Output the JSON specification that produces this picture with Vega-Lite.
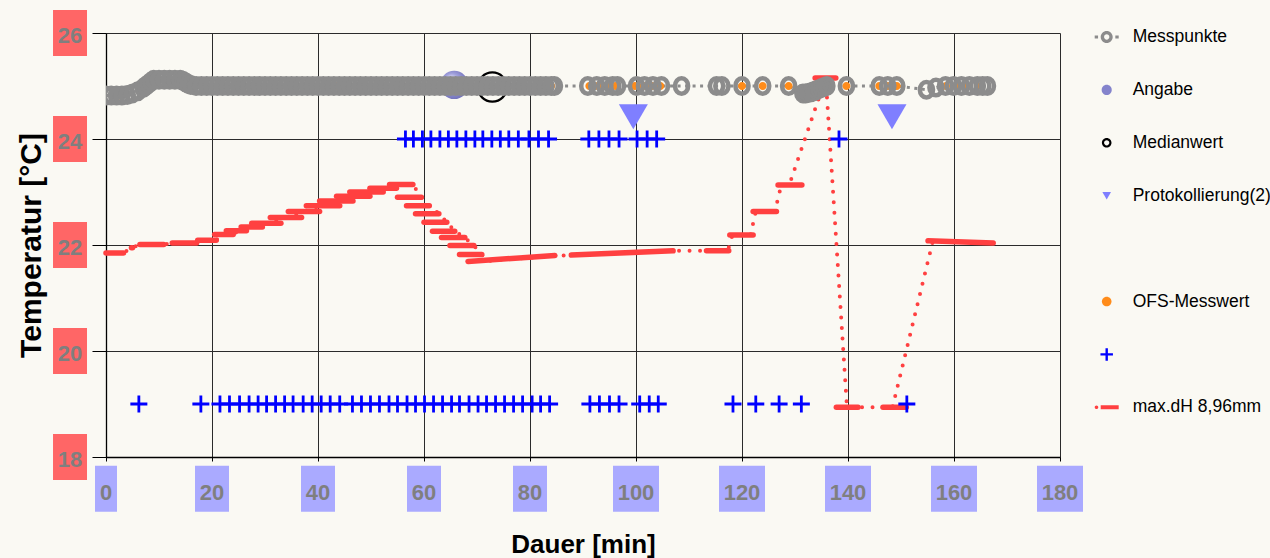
{
  "$schema": "https://vega.github.io/schema/vega-lite/v6.json",
  "width": 954,
  "height": 424,
  "autosize": "none",
  "padding": {"left": 106, "top": 33, "right": 210, "bottom": 101},
  "background": "#FAF9F3",
  "config": {"view": {"stroke": null}},
  "datasets": {
    "yt": [{"t": 18}, {"t": 20}, {"t": 22}, {"t": 24}, {"t": 26}],
    "xt": [{"t": 0}, {"t": 20}, {"t": 40}, {"t": 60}, {"t": 80}, {"t": 100}, {"t": 120}, {"t": 140}, {"t": 160}, {"t": 180}],
    "mp": [
      {"t": 0, "v": 24.82}, {"t": 1, "v": 24.82}, {"t": 2, "v": 24.82}, {"t": 3, "v": 24.82}, {"t": 4, "v": 24.83},
      {"t": 5, "v": 24.86}, {"t": 6, "v": 24.9}, {"t": 7, "v": 24.96}, {"t": 7.5, "v": 25.0}, {"t": 8, "v": 25.04},
      {"t": 8.5, "v": 25.08}, {"t": 9, "v": 25.12}, {"t": 10, "v": 25.12}, {"t": 11, "v": 25.12}, {"t": 12, "v": 25.12},
      {"t": 13, "v": 25.12}, {"t": 14, "v": 25.12}, {"t": 14.5, "v": 25.1}, {"t": 15, "v": 25.07}, {"t": 15.5, "v": 25.04},
      {"t": 16, "v": 25.02}, {"t": 17, "v": 25}, {"t": 18, "v": 25}, {"t": 19, "v": 25}, {"t": 20, "v": 25},
      {"t": 21, "v": 25}, {"t": 22, "v": 25}, {"t": 23, "v": 25}, {"t": 24, "v": 25}, {"t": 25, "v": 25},
      {"t": 26, "v": 25}, {"t": 27, "v": 25}, {"t": 28, "v": 25}, {"t": 29, "v": 25}, {"t": 30, "v": 25},
      {"t": 31, "v": 25}, {"t": 32, "v": 25}, {"t": 33, "v": 25}, {"t": 34, "v": 25}, {"t": 35, "v": 25},
      {"t": 36, "v": 25}, {"t": 37, "v": 25}, {"t": 38, "v": 25}, {"t": 39, "v": 25}, {"t": 40, "v": 25},
      {"t": 41, "v": 25}, {"t": 42, "v": 25}, {"t": 43, "v": 25}, {"t": 44, "v": 25}, {"t": 45, "v": 25},
      {"t": 46, "v": 25}, {"t": 47, "v": 25}, {"t": 48, "v": 25}, {"t": 49, "v": 25}, {"t": 50, "v": 25},
      {"t": 51, "v": 25}, {"t": 52, "v": 25}, {"t": 53, "v": 25}, {"t": 54, "v": 25}, {"t": 55, "v": 25},
      {"t": 56, "v": 25}, {"t": 57, "v": 25}, {"t": 58, "v": 25}, {"t": 59, "v": 25}, {"t": 60, "v": 25},
      {"t": 61, "v": 25}, {"t": 62, "v": 25}, {"t": 63, "v": 25}, {"t": 64, "v": 25}, {"t": 65, "v": 25},
      {"t": 66, "v": 25}, {"t": 67, "v": 25}, {"t": 68, "v": 25}, {"t": 69, "v": 25}, {"t": 70, "v": 25},
      {"t": 71, "v": 25}, {"t": 72, "v": 25}, {"t": 73, "v": 25}, {"t": 74, "v": 25}, {"t": 75, "v": 25},
      {"t": 76, "v": 25}, {"t": 77, "v": 25}, {"t": 78, "v": 25}, {"t": 79, "v": 25}, {"t": 80, "v": 25},
      {"t": 81, "v": 25}, {"t": 82, "v": 25}, {"t": 83, "v": 25}, {"t": 84, "v": 25}, {"t": 84.6, "v": 25},
      {"t": 90.9, "v": 25}, {"t": 92.6, "v": 25}, {"t": 94.1, "v": 25}, {"t": 95.6, "v": 25}, {"t": 96.5, "v": 25},
      {"t": 100.1, "v": 25}, {"t": 101.6, "v": 25}, {"t": 103.2, "v": 25}, {"t": 104.8, "v": 25}, {"t": 108.6, "v": 25},
      {"t": 115.2, "v": 25}, {"t": 116.2, "v": 25}, {"t": 120.0, "v": 25}, {"t": 123.9, "v": 25}, {"t": 128.8, "v": 25},
      {"t": 131.5, "v": 24.86}, {"t": 132, "v": 24.86}, {"t": 132.5, "v": 24.87}, {"t": 133, "v": 24.88}, {"t": 133.5, "v": 24.9},
      {"t": 134, "v": 24.92}, {"t": 134.5, "v": 24.94}, {"t": 135, "v": 24.96}, {"t": 135.5, "v": 24.98}, {"t": 136, "v": 25.0},
      {"t": 139.7, "v": 25}, {"t": 145.9, "v": 25}, {"t": 147.5, "v": 25}, {"t": 149.2, "v": 25},
      {"t": 154.8, "v": 24.93}, {"t": 156.6, "v": 24.97}, {"t": 158.4, "v": 25}, {"t": 159.9, "v": 25}, {"t": 161.4, "v": 25},
      {"t": 162.9, "v": 25}, {"t": 164.4, "v": 25}, {"t": 165.4, "v": 25}, {"t": 166.3, "v": 25}
    ],
    "ofs": [
      {"t": 2.5, "v": 24.82, "s": "OFS-Messwert"}, {"t": 15.3, "v": 25.06, "s": "OFS-Messwert"}, {"t": 18.6, "v": 25, "s": "OFS-Messwert"},
      {"t": 21.1, "v": 25, "s": "OFS-Messwert"}, {"t": 31, "v": 25, "s": "OFS-Messwert"}, {"t": 43.7, "v": 25, "s": "OFS-Messwert"},
      {"t": 57, "v": 25, "s": "OFS-Messwert"}, {"t": 70, "v": 25, "s": "OFS-Messwert"}, {"t": 84, "v": 25, "s": "OFS-Messwert"},
      {"t": 91.2, "v": 25, "s": "OFS-Messwert"}, {"t": 92.8, "v": 25, "s": "OFS-Messwert"}, {"t": 94.5, "v": 25, "s": "OFS-Messwert"},
      {"t": 96.1, "v": 25, "s": "OFS-Messwert"}, {"t": 99.8, "v": 25, "s": "OFS-Messwert"}, {"t": 101.4, "v": 25, "s": "OFS-Messwert"},
      {"t": 103, "v": 25, "s": "OFS-Messwert"}, {"t": 104.6, "v": 25, "s": "OFS-Messwert"}, {"t": 120, "v": 25, "s": "OFS-Messwert"},
      {"t": 123.9, "v": 25, "s": "OFS-Messwert"}, {"t": 128.8, "v": 25, "s": "OFS-Messwert"}, {"t": 139.7, "v": 25, "s": "OFS-Messwert"},
      {"t": 145.9, "v": 25, "s": "OFS-Messwert"}, {"t": 147.5, "v": 25, "s": "OFS-Messwert"}, {"t": 149.2, "v": 25, "s": "OFS-Messwert"},
      {"t": 158.5, "v": 25, "s": "OFS-Messwert"}, {"t": 160.5, "v": 25, "s": "OFS-Messwert"}, {"t": 162.5, "v": 25, "s": "OFS-Messwert"},
      {"t": 164.5, "v": 25, "s": "OFS-Messwert"}
    ],
    "ang": [{"t": 65.7, "v": 25.02}],
    "med": [{"t": 72.9, "v": 24.98}],
    "prot": [{"t": 99.5, "v": 24.42}, {"t": 148.3, "v": 24.42}],
    "kr": [
      {"t": 56.5, "v": 24}, {"t": 58.0, "v": 24}, {"t": 59.7, "v": 24}, {"t": 61.3, "v": 24}, {"t": 63.0, "v": 24},
      {"t": 64.6, "v": 24}, {"t": 66.2, "v": 24}, {"t": 67.9, "v": 24}, {"t": 69.6, "v": 24}, {"t": 71.1, "v": 24},
      {"t": 72.8, "v": 24}, {"t": 74.4, "v": 24}, {"t": 76.0, "v": 24}, {"t": 77.8, "v": 24}, {"t": 79.8, "v": 24},
      {"t": 81.6, "v": 24}, {"t": 83.5, "v": 24}, {"t": 91.1, "v": 24}, {"t": 93.0, "v": 24}, {"t": 94.9, "v": 24},
      {"t": 96.8, "v": 24}, {"t": 100.2, "v": 24}, {"t": 102.1, "v": 24}, {"t": 103.9, "v": 24}, {"t": 138.3, "v": 24},
      {"t": 6.2, "v": 19}, {"t": 17.9, "v": 19}, {"t": 21.5, "v": 19}, {"t": 23.3, "v": 19}, {"t": 25.2, "v": 19},
      {"t": 27.0, "v": 19}, {"t": 28.7, "v": 19}, {"t": 30.3, "v": 19}, {"t": 32.0, "v": 19}, {"t": 33.7, "v": 19},
      {"t": 35.3, "v": 19}, {"t": 37.2, "v": 19}, {"t": 38.9, "v": 19}, {"t": 40.6, "v": 19}, {"t": 42.3, "v": 19},
      {"t": 44.1, "v": 19}, {"t": 46.5, "v": 19}, {"t": 48.2, "v": 19}, {"t": 49.9, "v": 19}, {"t": 51.6, "v": 19},
      {"t": 53.4, "v": 19}, {"t": 55.0, "v": 19}, {"t": 56.8, "v": 19}, {"t": 58.4, "v": 19}, {"t": 60.1, "v": 19},
      {"t": 61.8, "v": 19}, {"t": 63.5, "v": 19}, {"t": 65.2, "v": 19}, {"t": 66.7, "v": 19}, {"t": 68.5, "v": 19},
      {"t": 70.2, "v": 19}, {"t": 71.8, "v": 19}, {"t": 73.5, "v": 19}, {"t": 75.2, "v": 19}, {"t": 76.9, "v": 19},
      {"t": 78.6, "v": 19}, {"t": 80.4, "v": 19}, {"t": 82.0, "v": 19}, {"t": 83.7, "v": 19},
      {"t": 91.3, "v": 19}, {"t": 93.1, "v": 19}, {"t": 95.0, "v": 19}, {"t": 96.8, "v": 19}, {"t": 100.7, "v": 19},
      {"t": 102.5, "v": 19}, {"t": 104.2, "v": 19}, {"t": 118.3, "v": 19}, {"t": 122.6, "v": 19}, {"t": 127.0, "v": 19},
      {"t": 131.2, "v": 19}, {"t": 151.1, "v": 19}
    ],
    "dhl": [
      {"t": 0, "v": 21.85}, {"t": 3.3, "v": 21.85}, {"t": 4.9, "v": 21.95}, {"t": 6.4, "v": 22.01}, {"t": 10.9, "v": 22.01},
      {"t": 12.5, "v": 22.04}, {"t": 17.1, "v": 22.04}, {"t": 17.3, "v": 22.09}, {"t": 20.8, "v": 22.09}, {"t": 22, "v": 22.2},
      {"t": 24, "v": 22.22}, {"t": 29, "v": 22.36}, {"t": 35, "v": 22.55}, {"t": 41, "v": 22.76}, {"t": 47, "v": 22.93},
      {"t": 52, "v": 23.05}, {"t": 55, "v": 23.12}, {"t": 57.9, "v": 23.14}, {"t": 59.5, "v": 22.9}, {"t": 61, "v": 22.74},
      {"t": 62.8, "v": 22.59}, {"t": 64.3, "v": 22.43}, {"t": 65.8, "v": 22.26}, {"t": 67.7, "v": 22.14}, {"t": 69.4, "v": 21.99},
      {"t": 70.9, "v": 21.82}, {"t": 72, "v": 21.7}, {"t": 84.7, "v": 21.8}, {"t": 85.9, "v": 21.8}, {"t": 87.8, "v": 21.81},
      {"t": 107, "v": 21.89}, {"t": 113.3, "v": 21.89}, {"t": 117.3, "v": 21.89}, {"t": 118.2, "v": 22.19}, {"t": 121.6, "v": 22.19},
      {"t": 122.6, "v": 22.63}, {"t": 126.2, "v": 22.63}, {"t": 127.4, "v": 23.13}, {"t": 128.9, "v": 23.13}, {"t": 135.8, "v": 25.15},
      {"t": 139.8, "v": 18.94}, {"t": 148.4, "v": 18.94}, {"t": 156.0, "v": 22.07}, {"t": 167.4, "v": 22.04}
    ],
    "dhb": [
      {"a": 0, "b": 3.3, "v": 21.85, "w": 21.85}, {"a": 4.8, "b": 5.0, "v": 21.95, "w": 21.95},
      {"a": 6.4, "b": 10.9, "v": 22.01, "w": 22.01}, {"a": 12.5, "b": 17.1, "v": 22.04, "w": 22.04},
      {"a": 17.3, "b": 20.8, "v": 22.09, "w": 22.09}, {"a": 20.5, "b": 24.0, "v": 22.2, "w": 22.2},
      {"a": 22.7, "b": 26.5, "v": 22.27, "w": 22.27}, {"a": 25.5, "b": 29.5, "v": 22.34, "w": 22.34},
      {"a": 27.5, "b": 33.0, "v": 22.41, "w": 22.41}, {"a": 31.0, "b": 36.9, "v": 22.52, "w": 22.52},
      {"a": 34.4, "b": 40.3, "v": 22.63, "w": 22.63}, {"a": 37.8, "b": 44.1, "v": 22.74, "w": 22.74},
      {"a": 40.3, "b": 46.6, "v": 22.83, "w": 22.83}, {"a": 43.5, "b": 49.8, "v": 22.92, "w": 22.92},
      {"a": 46.0, "b": 52.3, "v": 23.0, "w": 23.0}, {"a": 49.8, "b": 54.8, "v": 23.07, "w": 23.07},
      {"a": 53.5, "b": 57.9, "v": 23.14, "w": 23.14}, {"a": 55.0, "b": 59.5, "v": 22.9, "w": 22.9},
      {"a": 56.7, "b": 61.0, "v": 22.74, "w": 22.74}, {"a": 58.4, "b": 62.8, "v": 22.59, "w": 22.59},
      {"a": 60.0, "b": 64.3, "v": 22.43, "w": 22.43}, {"a": 61.6, "b": 65.8, "v": 22.26, "w": 22.26},
      {"a": 63.3, "b": 67.7, "v": 22.14, "w": 22.14}, {"a": 64.9, "b": 69.4, "v": 21.99, "w": 21.99},
      {"a": 66.7, "b": 70.9, "v": 21.82, "w": 21.82}, {"a": 68.3, "b": 84.7, "v": 21.69, "w": 21.8},
      {"a": 87.8, "b": 107.0, "v": 21.81, "w": 21.89}, {"a": 113.3, "b": 117.5, "v": 21.89, "w": 21.89},
      {"a": 117.7, "b": 122.1, "v": 22.19, "w": 22.19}, {"a": 122.1, "b": 126.5, "v": 22.63, "w": 22.63},
      {"a": 126.8, "b": 131.3, "v": 23.13, "w": 23.13}, {"a": 133.8, "b": 137.7, "v": 25.15, "w": 25.15},
      {"a": 137.8, "b": 141.9, "v": 18.94, "w": 18.94}, {"a": 146.6, "b": 151.0, "v": 18.94, "w": 18.94},
      {"a": 155.1, "b": 167.4, "v": 22.08, "w": 22.04}
    ]
  },
  "layer": [
    {
      "data": {"name": "mp"},
      "mark": {"type": "line", "stroke": "#8C8C8C", "strokeWidth": 3, "strokeDash": [3, 4.5]},
      "encoding": {
        "x": {"field": "t", "type": "quantitative", "scale": {"domain": [0, 180], "nice": false, "zero": false},
          "axis": {"values": [0, 20, 40, 60, 80, 100, 120, 140, 160, 180], "title": "Dauer [min]", "labels": false,
            "grid": true, "gridColor": "#2B2B2B", "gridWidth": 1, "gridOpacity": 1,
            "ticks": true, "tickSize": 4, "tickColor": "#000000", "tickWidth": 1,
            "domain": true, "domainColor": "#000000", "domainWidth": 1.3,
            "titleFont": "Liberation Sans", "titleFontSize": 26, "titleFontWeight": "bold",
            "titleColor": "#000000", "titleX": 477, "titleY": 95, "titleAlign": "center", "titleBaseline": "alphabetic"}},
        "y": {"field": "v", "type": "quantitative", "scale": {"domain": [18, 26], "nice": false, "zero": false},
          "axis": {"values": [18, 20, 22, 24, 26], "title": "Temperatur [°C]", "labels": false,
            "grid": true, "gridColor": "#2B2B2B", "gridWidth": 1, "gridOpacity": 1,
            "ticks": true, "tickSize": 14, "tickColor": "#000000", "tickWidth": 1,
            "domain": true, "domainColor": "#000000", "domainWidth": 1.3,
            "titleFont": "Liberation Sans", "titleFontSize": 30, "titleFontWeight": "bold",
            "titleColor": "#000000", "titleX": -66, "titleY": 212, "titleAngle": 270, "titleAlign": "center", "titleBaseline": "alphabetic"}}
      }
    },
    {
      "data": {"name": "yt"},
      "mark": {"type": "point", "shape": "M-0.739,-1H0.739V1H-0.739Z", "size": 2116, "filled": true, "fill": "#FF6666", "opacity": 1, "strokeWidth": 0},
      "encoding": {
        "x": {"datum": -6.79, "type": "quantitative", "scale": {"domain": [0, 180], "nice": false, "zero": false}},
        "y": {"field": "t", "type": "quantitative", "scale": {"domain": [18, 26], "nice": false, "zero": false}}
      }
    },
    {
      "data": {"name": "yt"},
      "mark": {"type": "text", "font": "Liberation Sans", "fontWeight": "bold", "fontSize": 22, "color": "#7F7F7F", "align": "center", "baseline": "middle", "dy": 2.5},
      "encoding": {
        "x": {"datum": -6.79, "type": "quantitative", "scale": {"domain": [0, 180], "nice": false, "zero": false}},
        "y": {"field": "t", "type": "quantitative", "scale": {"domain": [18, 26], "nice": false, "zero": false}},
        "text": {"field": "t", "type": "quantitative"}
      }
    },
    {
      "data": {"name": "xt"},
      "transform": [{"filter": "datum.t < 10"}],
      "mark": {"type": "point", "shape": "M-0.478,-1H0.478V1H-0.478Z", "size": 2116, "filled": true, "fill": "#AAAAFF", "opacity": 1, "strokeWidth": 0},
      "encoding": {
        "x": {"field": "t", "type": "quantitative", "scale": {"domain": [0, 180], "nice": false, "zero": false}},
        "y": {"datum": 17.4, "type": "quantitative", "scale": {"domain": [18, 26], "nice": false, "zero": false}}
      }
    },
    {
      "data": {"name": "xt"},
      "transform": [{"filter": "datum.t >= 10 && datum.t < 100"}],
      "mark": {"type": "point", "shape": "M-0.739,-1H0.739V1H-0.739Z", "size": 2116, "filled": true, "fill": "#AAAAFF", "opacity": 1, "strokeWidth": 0},
      "encoding": {
        "x": {"field": "t", "type": "quantitative", "scale": {"domain": [0, 180], "nice": false, "zero": false}},
        "y": {"datum": 17.4, "type": "quantitative", "scale": {"domain": [18, 26], "nice": false, "zero": false}}
      }
    },
    {
      "data": {"name": "xt"},
      "transform": [{"filter": "datum.t >= 100"}],
      "mark": {"type": "point", "shape": "M-1,-1H1V1H-1Z", "size": 2116, "filled": true, "fill": "#AAAAFF", "opacity": 1, "strokeWidth": 0},
      "encoding": {
        "x": {"field": "t", "type": "quantitative", "scale": {"domain": [0, 180], "nice": false, "zero": false}},
        "y": {"datum": 17.4, "type": "quantitative", "scale": {"domain": [18, 26], "nice": false, "zero": false}}
      }
    },
    {
      "data": {"name": "xt"},
      "mark": {"type": "text", "font": "Liberation Sans", "fontWeight": "bold", "fontSize": 22, "color": "#7F7F7F", "align": "center", "baseline": "middle", "dy": 4},
      "encoding": {
        "x": {"field": "t", "type": "quantitative", "scale": {"domain": [0, 180], "nice": false, "zero": false}},
        "y": {"datum": 17.4, "type": "quantitative", "scale": {"domain": [18, 26], "nice": false, "zero": false}},
        "text": {"field": "t", "type": "quantitative"}
      }
    },
    {
      "data": {"name": "ang"},
      "mark": {"type": "point", "shape": "circle", "size": 804, "filled": true, "opacity": 1, "strokeWidth": 0,
        "fill": {"gradient": "radial", "x1": 0.38, "y1": 0.3, "r1": 0, "x2": 0.45, "y2": 0.45, "r2": 0.6,
          "stops": [{"offset": 0, "color": "#F6F6FF"}, {"offset": 0.45, "color": "#A0A0DC"}, {"offset": 1, "color": "#6E6EB8"}]}},
      "encoding": {
        "x": {"field": "t", "type": "quantitative", "scale": {"domain": [0, 180], "nice": false, "zero": false}},
        "y": {"field": "v", "type": "quantitative", "scale": {"domain": [18, 26], "nice": false, "zero": false}}
      }
    },
    {
      "data": {"name": "med"},
      "mark": {"type": "point", "shape": "circle", "size": 855, "filled": false, "stroke": "#000000", "strokeWidth": 2.2, "opacity": 1},
      "encoding": {
        "x": {"field": "t", "type": "quantitative", "scale": {"domain": [0, 180], "nice": false, "zero": false}},
        "y": {"field": "v", "type": "quantitative", "scale": {"domain": [18, 26], "nice": false, "zero": false}}
      }
    },
    {
      "data": {"name": "dhl"},
      "mark": {"type": "line", "stroke": "#FF4040", "strokeWidth": 4, "strokeDash": [0, 10.5], "strokeCap": "round"},
      "encoding": {
        "x": {"field": "t", "type": "quantitative", "scale": {"domain": [0, 180], "nice": false, "zero": false}},
        "y": {"field": "v", "type": "quantitative", "scale": {"domain": [18, 26], "nice": false, "zero": false}},
        "order": {"value": null}
      }
    },
    {
      "data": {"name": "dhb"},
      "mark": {"type": "rule", "stroke": "#FF4040", "strokeWidth": 5.5, "strokeCap": "round"},
      "encoding": {
        "x": {"field": "a", "type": "quantitative", "scale": {"domain": [0, 180], "nice": false, "zero": false}},
        "x2": {"field": "b"},
        "y": {"field": "v", "type": "quantitative", "scale": {"domain": [18, 26], "nice": false, "zero": false}},
        "y2": {"field": "w"}
      }
    },
    {
      "data": {"name": "ofs"},
      "mark": {"type": "point", "filled": true, "size": 400, "opacity": 1, "strokeWidth": 0},
      "encoding": {
        "x": {"field": "t", "type": "quantitative", "scale": {"domain": [0, 180], "nice": false, "zero": false}},
        "y": {"field": "v", "type": "quantitative", "scale": {"domain": [18, 26], "nice": false, "zero": false}},
        "fill": {"field": "s", "type": "nominal",
          "scale": {"domain": ["Messpunkte", "Angabe", "Medianwert", "Protokollierung(2)", "blank", "OFS-Messwert", "kreuz", "max.dH 8,96mm"],
            "range": ["#8C8C8C", "#8484CC", "#000000", "#7F7FFF", "rgba(0,0,0,0)", "#FF8C1A", "#0000FF", "#FF4040"]},
          "legend": {"title": null, "orient": "none", "legendX": 988.7, "legendY": -8, "direction": "vertical", "padding": 0,
            "symbolSize": 576, "symbolStrokeWidth": 0, "symbolOpacity": 1,
            "labelFont": "Liberation Sans", "labelFontSize": 17.5, "labelColor": "#000000",
            "labelOffset": 14, "rowPadding": 31.9, "labelLimit": 300,
            "labelExpr": "datum.label == 'blank' || datum.label == 'kreuz' ? '' : datum.label"}},
        "shape": {"field": "s", "type": "nominal",
          "scale": {"domain": ["Messpunkte", "Angabe", "Medianwert", "Protokollierung(2)", "blank", "OFS-Messwert", "kreuz", "max.dH 8,96mm"],
            "range": [
              "M-1,-0.13H-0.72V0.13H-1Z M0.72,-0.13H1V0.13H0.72Z M-0.5,0A0.5,0.5 0 1,0 0.5,0A0.5,0.5 0 1,0 -0.5,0Z M-0.22,0A0.22,0.22 0 1,1 0.22,0A0.22,0.22 0 1,1 -0.22,0Z",
              "M-0.42,0A0.42,0.42 0 1,0 0.42,0A0.42,0.42 0 1,0 -0.42,0Z",
              "M-0.4,0A0.4,0.4 0 1,0 0.4,0A0.4,0.4 0 1,0 -0.4,0Z M-0.22,0A0.22,0.22 0 1,1 0.22,0A0.22,0.22 0 1,1 -0.22,0Z",
              "M-0.36,-0.3H0.36L0,0.32Z",
              "M0,0L0,0Z",
              "M-0.4,0A0.4,0.4 0 1,0 0.4,0A0.4,0.4 0 1,0 -0.4,0Z",
              "M-0.52,-0.1H0.52V0.1H-0.52Z M-0.1,-0.52H0.1V0.52H-0.1Z",
              "M-1,0A0.15,0.15 0 1,0 -0.7,0A0.15,0.15 0 1,0 -1,0Z M-0.5,-0.17H1V0.17H-0.5Z"
            ]},
          "legend": {"title": null, "orient": "none", "legendX": 988.7, "legendY": -8, "direction": "vertical", "padding": 0,
            "symbolSize": 576, "symbolStrokeWidth": 0, "symbolOpacity": 1,
            "labelFont": "Liberation Sans", "labelFontSize": 17.5, "labelColor": "#000000",
            "labelOffset": 14, "rowPadding": 31.9, "labelLimit": 300,
            "labelExpr": "datum.label == 'blank' || datum.label == 'kreuz' ? '' : datum.label"}}
      }
    },
    {
      "data": {"name": "mp"},
      "mark": {"type": "point", "shape": "M-0.85,0A0.85,1 0 1,0 0.85,0A0.85,1 0 1,0 -0.85,0Z", "size": 240, "filled": false, "stroke": "#8C8C8C", "strokeWidth": 4.5, "opacity": 1, "clip": true},
      "encoding": {
        "x": {"field": "t", "type": "quantitative", "scale": {"domain": [0, 180], "nice": false, "zero": false}},
        "y": {"field": "v", "type": "quantitative", "scale": {"domain": [18, 26], "nice": false, "zero": false}}
      }
    },
    {
      "data": {"name": "prot"},
      "mark": {"type": "point", "shape": "M-1,-0.86H1L0,0.86Z", "size": 841, "filled": true, "fill": "#7F7FFF", "opacity": 1, "strokeWidth": 0},
      "encoding": {
        "x": {"field": "t", "type": "quantitative", "scale": {"domain": [0, 180], "nice": false, "zero": false}},
        "y": {"field": "v", "type": "quantitative", "scale": {"domain": [18, 26], "nice": false, "zero": false}}
      }
    },
    {
      "data": {"name": "kr"},
      "mark": {"type": "point", "shape": "M-1,0H1M0,-1V1", "size": 289, "filled": false, "stroke": "#0000FF", "strokeWidth": 2.8, "opacity": 1},
      "encoding": {
        "x": {"field": "t", "type": "quantitative", "scale": {"domain": [0, 180], "nice": false, "zero": false}},
        "y": {"field": "v", "type": "quantitative", "scale": {"domain": [18, 26], "nice": false, "zero": false}}
      }
    }
  ]
}
